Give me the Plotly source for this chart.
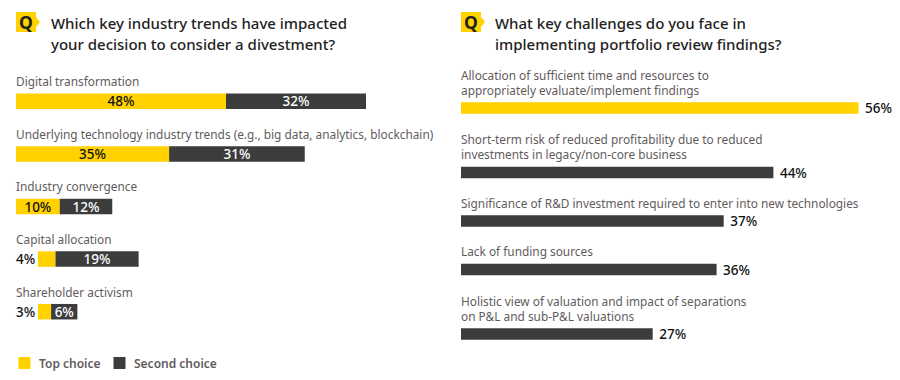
import plotly.graph_objects as go

left_title = ["Which key industry trends have impacted", "your decision to consider a divestment?"]
right_title = ["What key challenges do you face in", "implementing portfolio review findings?"]

left_categories = [
    "Digital transformation",
    "Underlying technology industry trends (e.g., big data, analytics, blockchain)",
    "Industry convergence",
    "Capital allocation",
    "Shareholder activism",
]
top_choice = [48, 35, 10, 4, 3]
second_choice = [32, 31, 12, 19, 6]
legend_labels = ["Top choice", "Second choice"]

right_categories = [
    "Allocation of sufficient time and resources to<br>appropriately evaluate/implement findings",
    "Short-term risk of reduced profitability due to reduced<br>investments in legacy/non-core business",
    "Significance of R&D investment required to enter into new technologies",
    "Lack of funding sources",
    "Holistic view of valuation and impact of separations<br>on P&L and sub-P&L valuations",
]
right_values = [56, 44, 37, 36, 27]

YELLOW = "#FFD200"
DARK = "#3C3C3C"
LABEL = "#5F5C5C"
INK = "#222222"
FONT = "Noto Sans"

# The page body adds an 8px margin, so the figure is 892x372 and every
# reference pixel coordinate below is converted with X()/Y().
OFF = 8
W, H = 900 - OFF, 380 - OFF


def X(v):
    return (v - OFF) / W


def Y(v):
    return 1 - (v - OFF) / H


L_X0, L_SCALE = 16, 4.375
R_X0, R_SCALE = 461, 7.1
L_INSET_PX = 22          # small bars start right of their outside label
L_MIN_INSIDE = 5         # top-choice values below this are labelled outside
L_FIRST, L_STEP, L_BAR = 101.3 - OFF, 52.6, 15.5
R_FIRST, R_GAP, R_LINE, R_BAR = 108 - OFF, 48.5, 16, 11.7
TEXT_NUDGE = -2.5        # cancels the annotation box padding
PCT_SIZE = 13.5


def right_rows():
    ys = [R_FIRST]
    for label in right_categories[1:]:
        ys.append(ys[-1] + R_GAP + R_LINE * label.count("<br>"))
    return ys


l_base = [L_INSET_PX / L_SCALE if t < L_MIN_INSIDE else 0 for t in top_choice]
l_top_text = [f"{t}%" if t >= L_MIN_INSIDE else "" for t in top_choice]
r_rows = right_rows()

fig = go.Figure()
fig.add_bar(
    name=legend_labels[0], y=left_categories, x=top_choice, base=l_base, orientation="h",
    marker=dict(color=YELLOW, line_width=0), width=L_BAR / L_STEP,
    text=l_top_text, textposition="inside", insidetextanchor="middle",
    textangle=0, constraintext="none",
    textfont=dict(family=FONT, size=PCT_SIZE, color="#111111", weight=500),
    hoverinfo="skip", xaxis="x", yaxis="y",
)
fig.add_bar(
    name=legend_labels[1], y=left_categories, x=second_choice,
    base=[b + t for b, t in zip(l_base, top_choice)], orientation="h",
    marker=dict(color=DARK, line_width=0), width=L_BAR / L_STEP,
    text=[f"{v}%" for v in second_choice], textposition="inside",
    insidetextanchor="middle", textangle=0, constraintext="none",
    textfont=dict(family=FONT, size=PCT_SIZE, color="#FFFFFF", weight=500),
    hoverinfo="skip", xaxis="x", yaxis="y",
)
fig.add_bar(
    y=r_rows, x=right_values, orientation="h",
    marker=dict(color=[YELLOW] + [DARK] * (len(right_values) - 1), line_width=0),
    width=R_BAR, text=[f"\u00a0{v}%" for v in right_values], textposition="outside",
    cliponaxis=False, constraintext="none",
    textfont=dict(family=FONT, size=PCT_SIZE, color="#111111", weight=500),
    hoverinfo="skip", xaxis="x2", yaxis="y2",
)

ann = []
for i, c in enumerate(left_categories):
    ann.append(dict(text=c, xref="x", yref="y", x=0, y=c, xanchor="left", yanchor="bottom",
                    xshift=TEXT_NUDGE, yshift=L_BAR / 2 + 2.4, showarrow=False, align="left",
                    font=dict(family=FONT, size=11.85, color=LABEL)))
    if top_choice[i] < L_MIN_INSIDE:
        ann.append(dict(text=f"{top_choice[i]}%", xref="x", yref="y", x=0, y=c,
                        xanchor="left", yanchor="middle", xshift=TEXT_NUDGE, showarrow=False,
                        font=dict(family=FONT, size=PCT_SIZE, color="#111111", weight=500)))
for c, y in zip(right_categories, r_rows):
    ann.append(dict(text=c, xref="x2", yref="y2", x=0, y=y, xanchor="left", yanchor="bottom",
                    xshift=TEXT_NUDGE, yshift=R_BAR / 2 + 2.6, showarrow=False, align="left",
                    font=dict(family=FONT, size=11.85, color=LABEL)))

shapes = []
for qx, title_x, title in [(16, 51, left_title), (461, 495, right_title)]:
    shapes.append(dict(
        type="path", xref="paper", yref="paper", line_width=0, fillcolor=YELLOW,
        path=(f"M {X(qx)} {Y(12)} H {X(qx+20)} V {Y(17)} L {X(qx+24)} {Y(22)} "
              f"L {X(qx+20)} {Y(27)} V {Y(32)} H {X(qx)} Z"),
    ))
    ann.append(dict(text="<b>Q</b>", xref="paper", yref="paper", x=X(qx + 10), y=Y(22),
                    xanchor="center", yanchor="middle", showarrow=False,
                    font=dict(family=FONT, size=17.5, color=INK)))
    for line, ty in zip(title, (23, 43.5)):
        ann.append(dict(text=line, xref="paper", yref="paper", x=X(title_x), y=Y(ty),
                        xanchor="left", yanchor="middle", xshift=TEXT_NUDGE, showarrow=False,
                        font=dict(family=FONT, size=15, color=INK, weight=500)))

for label, color, sx, tx in zip(legend_labels, (YELLOW, DARK), (18.5, 113.5), (39, 134)):
    shapes.append(dict(type="rect", xref="paper", yref="paper", line_width=0, fillcolor=color,
                       x0=X(sx), x1=X(sx + 12), y0=Y(357), y1=Y(369)))
    ann.append(dict(text=label, xref="paper", yref="paper", x=X(tx), y=Y(363.5),
                    xanchor="left", yanchor="middle", xshift=TEXT_NUDGE, showarrow=False,
                    font=dict(family=FONT, size=12, color=LABEL, weight=600)))

fig.update_layout(
    width=W, height=H, margin=dict(l=0, r=0, t=0, b=0),
    paper_bgcolor="white", plot_bgcolor="white", barmode="overlay",
    showlegend=False,
    xaxis=dict(domain=[X(L_X0), X(L_X0 + 430)], range=[0, 430 / L_SCALE], visible=False),
    yaxis=dict(domain=[0, 1], type="category", categoryorder="array", categoryarray=left_categories,
               range=[(H - L_FIRST) / L_STEP, -L_FIRST / L_STEP], visible=False),
    xaxis2=dict(domain=[X(R_X0), X(R_X0 + 430)], range=[0, 430 / R_SCALE], visible=False, anchor="y2"),
    yaxis2=dict(domain=[0, 1], range=[H, 0], visible=False, anchor="x2"),
    annotations=ann, shapes=shapes,
)
fig.write_html("out.html")
